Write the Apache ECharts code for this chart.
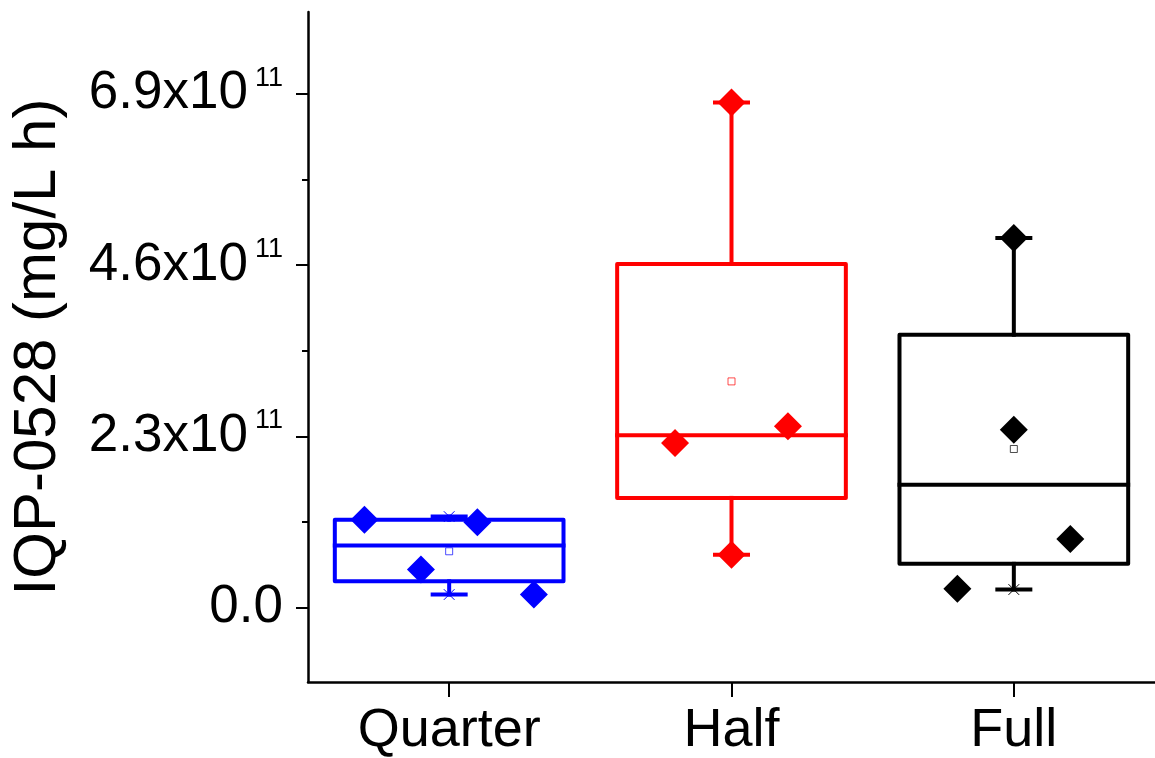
<!DOCTYPE html>
<html><head><meta charset="utf-8">
<script src="https://cdn.jsdelivr.net/npm/echarts@6/dist/echarts.min.js"></script>
<style>html,body{margin:0;padding:0;background:#fff}#c{width:1155px;height:758px}</style>
</head><body><div id="c"></div>
<script>
// ---- data ----
const categories = ['Quarter', 'Half', 'Full'];
const colors = ['#0000FF', '#FF0000', '#000000'];
const whiskerLow  = [17.5e9, 71.1e9, 24.2e9];
const q1          = [35.3e9, 147.3e9, 58.7e9];
const median      = [83.2e9, 231.3e9, 165.1e9];
const q3          = [118.1e9, 461.4e9, 366.5e9];
const whiskerHigh = [122.2e9, 678.3e9, 496.3e9];
const means       = [75.6e9, 303.8e9, 213.0e9];
const quarterPoints = [118.1e9, 51.0e9, 114.5e9, 17.5e9];
const quarterJitter = [-0.3, -0.1, 0.1, 0.3];
const halfPoints = [678.3e9, 221.1e9, 243.4e9, 71.1e9];
const halfJitter = [0, -0.2, 0.2, 0];
const fullPoints = [496.3e9, 238.9e9, 92.2e9, 25.1e9];
const fullJitter = [0, 0, 0.2, -0.2];
const yTickValues = [0, 2.3e11, 4.6e11, 6.9e11];
const yTickText = ['0.0', '2.3x10', '4.6x10', '6.9x10'];
const yTickExp = ['', '11', '11', '11'];
const yMinorTicks = [1.15e11, 3.45e11, 5.75e11];
const yName = 'IQP-0528 (mg/L h)';

const FONT = 'Liberation Sans, Arial, sans-serif';
const pointSets = [quarterPoints, halfPoints, fullPoints];
const jitterSets = [quarterJitter, halfJitter, fullJitter];

const boxData = categories.map((c, i) => [i, whiskerLow[i], q1[i], median[i], q3[i], whiskerHigh[i], means[i]]);

function renderBox(params, api) {
  const i = api.value(0);
  const color = colors[i];
  const xc = api.coord([i, 0])[0];
  const unit = api.size([1, 0])[0];
  const hw = unit * 0.405;
  const cap = 16.5;
  const y = k => api.coord([i, api.value(k)])[1];
  const yLow = y(1), yQ1 = y(2), yMed = y(3), yQ3 = y(4), yHigh = y(5), yMean = y(6);
  const ln = (x1, y1, x2, y2, w) => ({type: 'line', shape: {x1, y1, x2, y2}, style: {stroke: color, lineWidth: w, lineCap: 'square'}});
  const xm = (cy) => [ln(xc - 5, cy - 5, xc + 5, cy + 5, 1), ln(xc - 5, cy + 5, xc + 5, cy - 5, 1)];
  return {
    type: 'group',
    children: [
      ln(xc, yQ3, xc, yHigh, 4),
      ln(xc, yQ1, xc, yLow, 4),
      ln(xc - cap, yHigh, xc + cap, yHigh, 4),
      ln(xc - cap, yLow, xc + cap, yLow, 4),
      ...xm(yHigh), ...xm(yLow),
      {type: 'rect', shape: {x: xc - hw, y: yQ3, width: 2 * hw, height: yQ1 - yQ3},
       style: {fill: 'none', stroke: color, lineWidth: 4, lineJoin: 'round'}},
      ln(xc - hw, yMed, xc + hw, yMed, 4),
      {type: 'rect', shape: {x: xc - 3.5, y: yMean - 3.5, width: 7, height: 7},
       style: {fill: '#fff', stroke: color, lineWidth: 1, opacity: 0.7}}
    ]
  };
}

const series = [{
  type: 'custom',
  renderItem: renderBox,
  data: boxData,
  encode: {x: 0, y: [1, 2, 3, 4, 5, 6]},
  z: 2
}];
categories.forEach((c, i) => {
  series.push({
    type: 'scatter',
    name: c,
    symbol: 'diamond',
    symbolSize: 28,
    itemStyle: {color: colors[i], opacity: 1},
    data: pointSets[i].map((v, k) => [i + jitterSets[i][k], v]),
    z: 5
  });
});

const axisLineStyle = {color: '#000', width: 2.5};
const option = {
  animation: false,
  backgroundColor: '#fff',
  grid: {left: 308, right: 0, top: 12, bottom: 76, containLabel: false},
  xAxis: {
    type: 'value', min: -0.5, max: 2.5,
    axisLine: {show: true, onZero: false, lineStyle: axisLineStyle},
    axisTick: {show: true, customValues: [0, 1, 2], length: 15, lineStyle: {color: '#000', width: 2}},
    axisLabel: {customValues: [0, 1, 2], formatter: v => categories[Math.round(v)],
      fontSize: 54, fontFamily: FONT, color: '#000', margin: 22},
    splitLine: {show: false}
  },
  yAxis: [{
    type: 'value', min: -1e11, max: 8e11, position: 'left',
    axisLine: {show: true, onZero: false, lineStyle: axisLineStyle},
    axisTick: {show: true, customValues: yTickValues, length: 12, lineStyle: {color: '#000', width: 2}},
    axisLabel: {
      customValues: yTickValues, margin: 25,
      formatter: v => {
        const k = yTickValues.findIndex(t => Math.abs(t - v) < 1e6);
        if (k < 0) return '';
        return yTickExp[k] ? '{a|' + yTickText[k] + '}{s|' + yTickExp[k] + '}' : '{a|' + yTickText[k] + '}';
      },
      rich: {
        a: {fontSize: 53, fontFamily: FONT, color: '#000', lineHeight: 58},
        s: {fontSize: 27, fontFamily: FONT, color: '#000', lineHeight: 27, verticalAlign: 'top', padding: [0, 0, 0, 7]}
      }
    },
    splitLine: {show: false},
    name: yName, nameLocation: 'middle', nameRotate: 90, nameGap: 240,
    nameTextStyle: {fontSize: 60, fontFamily: FONT, color: '#000'}
  }, {
    type: 'value', min: -1e11, max: 8e11, position: 'left',
    axisLine: {show: false, onZero: false},
    axisTick: {show: true, customValues: yMinorTicks, length: 6, lineStyle: {color: '#000', width: 2}},
    axisLabel: {show: false},
    splitLine: {show: false}
  }],
  series
};
const chart = echarts.init(document.getElementById('c'), null, {renderer: 'canvas'});
chart.setOption(option);
</script>
</body></html>
